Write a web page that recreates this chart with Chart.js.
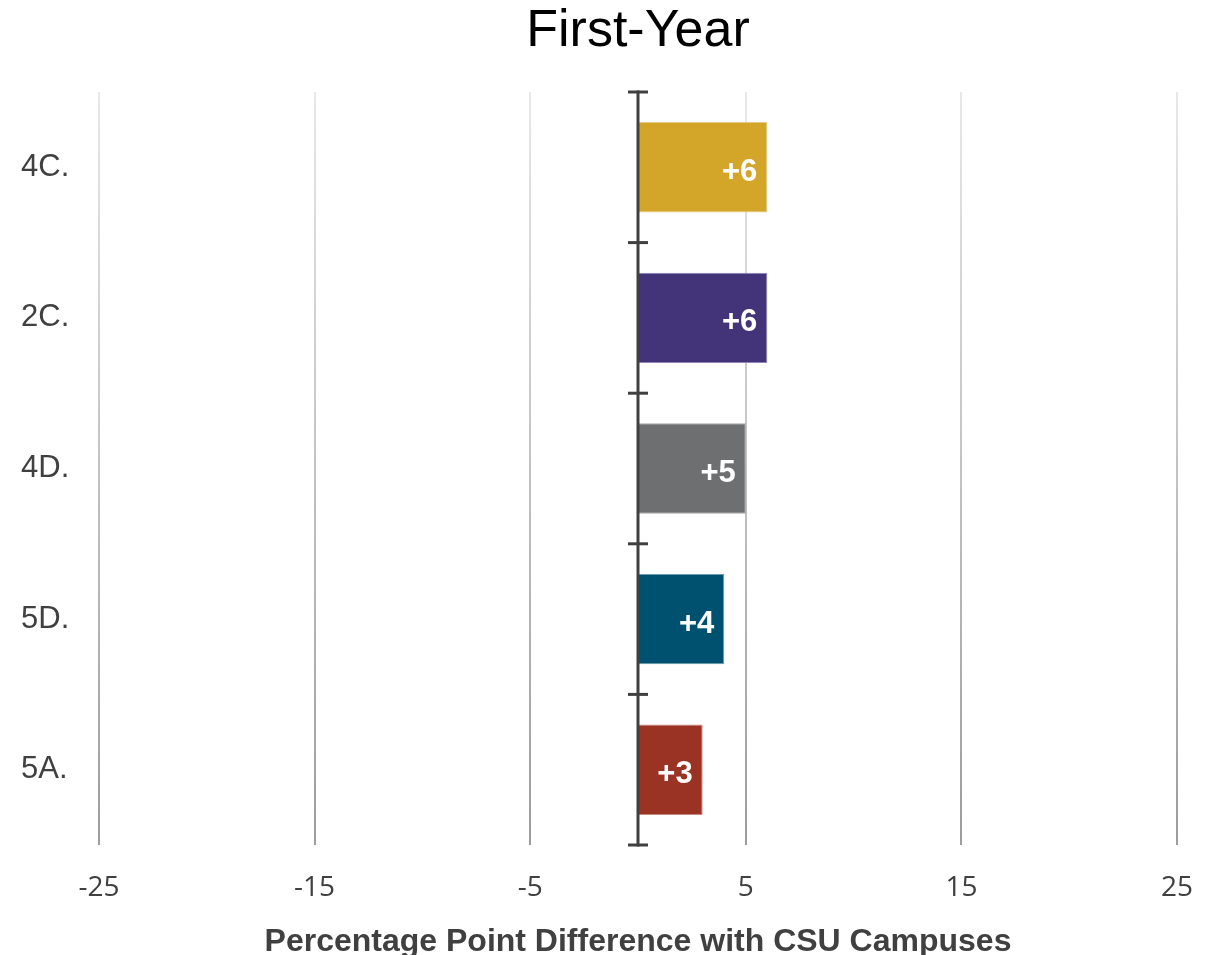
<!DOCTYPE html>
<html>
<head>
<meta charset="utf-8">
<script src="https://cdn.jsdelivr.net/npm/chart.js@4.4.1/dist/chart.umd.min.js"></script>
<style>
  html, body { margin: 0; padding: 0; background: #fff; }
  #wrap { width: 1216px; height: 955px; position: relative; }
</style>
</head>
<body>
<div id="wrap"><canvas id="c" width="1216" height="955"></canvas></div>
<script>
const categories = ['4C.', '2C.', '4D.', '5D.', '5A.'];
const values = [6, 6, 5, 4, 3];
const labels = ['+6', '+6', '+5', '+4', '+3'];
const barColors = ['#D3A62A', '#433479', '#6D6F71', '#005170', '#9A3324'];
const borderColors = ['#E4C983', '#8F86B5', '#A7A8AA', '#6A9AB0', '#C98A80'];
const xTicks = [-25, -15, -5, 5, 15, 25];
const chartTitle = 'First-Year';
const xTitle = 'Percentage Point Difference with CSU Campuses';

const TEXT = '#404040';

const zeroLinePlugin = {
  id: 'zeroLine',
  afterDatasetsDraw(chart) {
    const {ctx, scales: {x, y}} = chart;
    const x0 = x.getPixelForValue(0);
    const top = y.getPixelForValue(-0.5);
    const bottom = y.getPixelForValue(categories.length - 0.5);
    ctx.save();
    ctx.strokeStyle = '#404040';
    ctx.lineWidth = 3;
    ctx.beginPath();
    ctx.moveTo(x0, top - 1.5);
    ctx.lineTo(x0, bottom + 1.5);
    ctx.stroke();
    for (let i = 0; i <= categories.length; i++) {
      const yy = y.getPixelForValue(i - 0.5);
      ctx.beginPath();
      ctx.moveTo(x0 - 10, yy);
      ctx.lineTo(x0 + 10, yy);
      ctx.stroke();
    }
    ctx.restore();
  }
};

const barLabelPlugin = {
  id: 'barLabels',
  afterDraw(chart) {
    const {ctx} = chart;
    const meta = chart.getDatasetMeta(0);
    ctx.save();
    ctx.fillStyle = '#ffffff';
    ctx.font = 'bold 31px "Liberation Sans", Arial, sans-serif';
    ctx.textAlign = 'right';
    ctx.textBaseline = 'middle';
    meta.data.forEach((el, i) => {
      ctx.fillText(labels[i], el.x - 10, el.y + 5);
    });
    ctx.restore();
  }
};

new Chart(document.getElementById('c'), {
  type: 'bar',
  data: {
    labels: categories,
    datasets: [{
      data: values,
      backgroundColor: barColors,
      borderColor: borderColors,
      borderWidth: 1,
      categoryPercentage: 1,
      barPercentage: 0.6
    }]
  },
  options: {
    indexAxis: 'y',
    responsive: false,
    animation: false,
    devicePixelRatio: 1,
    layout: { padding: { left: 21, right: 39, top: 0, bottom: 0 } },
    plugins: {
      legend: { display: false },
      tooltip: { enabled: false },
      title: { display: false }
    },
    scales: {
      x: {
        type: 'linear',
        position: 'bottom',
        min: -25,
        max: 25,
        afterBuildTicks(scale) { scale.ticks = xTicks.map(v => ({ value: v })); },
        afterFit(scale) { scale.height = 110; },
        border: { display: false },
        grid: {
          drawTicks: true,
          tickLength: 26,
          tickColor: 'rgba(0,0,0,0)',
          lineWidth: 2,
          color(ctx) {
            const chart = ctx.chart;
            const ca = chart.chartArea;
            if (!ca) return '#cccccc';
            const g = chart.ctx.createLinearGradient(0, ca.top, 0, ca.bottom);
            g.addColorStop(0, '#e8e8e8');
            g.addColorStop(1, '#9c9c9c');
            return g;
          }
        },
        ticks: {
          color: TEXT,
          padding: 0,
          font: { family: '"Open Sans", sans-serif', size: 28 },
          callback: (v) => String(v)
        },
        title: {
          display: true,
          text: xTitle,
          color: TEXT,
          font: { family: '"Liberation Sans", Arial, sans-serif', size: 32, weight: 'bold', lineHeight: 0.8 },
          padding: { top: 0, bottom: 0 }
        }
      },
      titleAxis: {
        type: 'linear',
        position: 'top',
        axis: 'x',
        min: -25,
        max: 25,
        afterFit(scale) { scale.height = 92; },
        border: { display: false },
        grid: { display: false, drawTicks: false },
        ticks: { display: false },
        title: {
          display: true,
          text: chartTitle,
          color: '#000',
          font: { family: '"Liberation Sans", Arial, sans-serif', size: 52, weight: 'normal', lineHeight: 1.2 },
          padding: { top: 0, bottom: 0 }
        }
      },
      y: {
        type: 'category',
        afterFit(scale) { scale.width = 78; },
        border: { display: false },
        grid: { display: false },
        ticks: {
          color: TEXT,
          crossAlign: 'far',
          font: { family: '"Liberation Sans", Arial, sans-serif', size: 31 }
        }
      }
    }
  },
  plugins: [zeroLinePlugin, barLabelPlugin]
});
</script>
</body>
</html>
